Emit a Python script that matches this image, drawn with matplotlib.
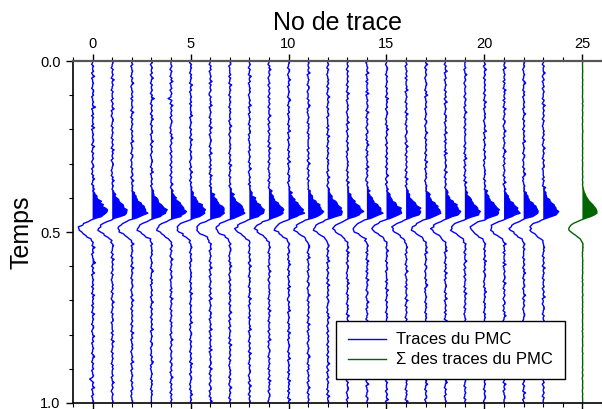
import numpy as np
import matplotlib
matplotlib.use("Agg")
import matplotlib.pyplot as plt
from matplotlib.lines import Line2D
from matplotlib.ticker import MultipleLocator, FormatStrFormatter

plt.rcParams["font.family"] = ["Liberation Sans", "DejaVu Sans"]

# ───── données ─────
DT = 0.005          # pas d'échantillonnage (s)
N_SAMPLES = 201     # 0.0 -> 1.0 s
NOISE_STEP = 0.05   # amplitude d'un cran de bruit (unités de trace)

# ondelette commune (début à WAVELET_T0, même pas DT)
WAVELET_T0 = 0.36
wavelet = [0.00, 0.01, 0.02, 0.04, 0.06, 0.09, 0.13, 0.17, 0.22, 0.28,
           0.35, 0.42, 0.50, 0.58, 0.65, 0.71, 0.74, 0.72, 0.60, 0.40,
           0.15, -0.08, -0.28, -0.46, -0.60, -0.68, -0.70, -0.68, -0.60, -0.48,
           -0.35, -0.23, -0.13, -0.06, -0.02, 0.01, 0.02, 0.02, 0.01, 0.00]

# bruit de chaque trace, codé en crans ('4' = 0)
noise_codes = [
    "44354 45346 34454 43554 53445 44734 45354 44536 34454 45543 64435 44543 45534 43546 44354 53445 44635 24543 35445 46344 54435 45436 44534 45574 35446 34454 45354 43645 44535 44364 45443 55434 46445 34454 43564 43544 53445 41354 46344 53445 4",
    "45443 54454 36445 44354 44534 54463 44345 54435 44544 35445 43645 44534 55443 44354 64454 34453 45445 43544 54354 44643 45344 53454 44354 36445 44543 54434 45454 35443 46445 44354 45534 44453 54436 44544 35445 44354 54445 34464 45434 54445 4",
    "44534 45443 54464 34454 45354 44543 64435 44544 35445 44634 45443 55434 44354 45534 64454 43545 44354 54436 44534 45445 35444 54634 45443 54454 36445 44354 45543 44534 64454 35445 44543 54436 44534 45454 34454 46344 53445 44354 45534 43445 4",
    "45345 44534 64435 44543 54744 35445 43546 44354 45534 44643 54454 34455 44354 63445 44534 45443 55434 44644 35445 44543 54436 44534 45454 34454 43564 44354 53445 44534 46443 54454 35445 44634 45443 55434 44354 46534 34454 43545 44354 54444 4",
    "44454 35443 54634 45345 44154 36445 44534 55443 44354 64454 34453 45445 43544 54354 44643 45344 53454 44354 36445 44543 54434 45454 35443 46445 44354 45534 44453 54436 44544 35445 44354 54445 34464 45434 54445 43554 45344 64435 44543 54454 4",
    "43545 44354 54436 44534 45445 35444 54634 45443 54454 36445 44354 45543 44534 64454 35445 44543 54436 44534 45454 34454 46344 53445 44354 45534 43445 45443 54454 36445 44354 44534 54463 44345 54435 44544 35445 43645 44534 55443 44354 64454 4",
    "44354 53445 44635 44543 35445 46344 54435 45436 44534 45544 35446 34454 45354 43645 44535 44364 45443 55434 46445 34454 43564 43544 53445 44354 46344 53445 44354 45346 34454 43554 53445 44634 45354 44536 34454 45543 64435 44543 45534 43546 4",
    "45534 44453 54436 44544 35445 44354 54445 34464 45434 54445 45443 54454 36445 44354 44534 54463 44345 54435 44544 35445 43645 44534 55443 44354 64454 34453 45445 43544 54354 44643 45344 53454 44354 36445 44543 54434 45454 35443 46445 44354 4",
    "44543 54436 44534 45454 34454 46344 53445 44354 45534 43445 44534 45443 54464 34454 45354 44543 64435 44544 35445 44634 45443 55434 44354 45534 64454 43545 44354 54436 44534 45445 35444 54634 45443 54454 36445 44354 45543 44534 64454 35445 4",
    "44354 64454 34453 45445 43544 54354 44643 45344 53454 44354 36445 44543 54434 45454 35443 46445 44354 45534 44453 54436 44544 35445 44354 54445 34464 45434 54445 45443 54454 36445 44354 44534 54463 44345 54435 44544 35445 43645 44534 55443 4",
    "45443 55434 46445 34454 43564 43544 53445 44354 46344 53445 44354 45346 34454 43554 53445 44634 45354 44536 34454 45543 64435 44543 45534 43546 44354 53445 44635 44543 35445 46344 54435 45436 44534 45544 35446 34454 45354 43645 44535 44364 4",
    "35445 44634 45443 55434 44354 46534 34454 43545 44354 54444 45345 44534 64435 44543 54444 35445 43546 44354 45534 44643 54454 34455 44354 63445 44534 45443 55434 44644 35445 44543 54436 44534 45454 34454 43564 44354 53445 44534 46443 54454 4",
    "44543 54434 45454 35443 46445 44354 45534 44453 54436 44544 35445 44354 54445 34464 45434 54445 43554 45344 64435 44543 54454 44454 35443 54634 45345 44354 36445 44534 55443 44354 64454 34453 45445 43544 54354 44643 45344 53454 44354 36445 4",
    "64454 35445 44543 54436 44534 45454 34454 46344 53445 44354 45534 43445 45443 54454 36445 44354 44534 54463 44345 54435 44544 35445 43645 44534 55443 44354 64454 43545 44354 54436 44534 45445 35444 54634 45443 54454 36445 44354 45543 44534 4",
    "53445 44634 45354 44536 34454 45543 64435 44543 45534 43546 44354 53445 44635 44543 35445 46344 54435 45436 44534 45544 35446 34454 45354 43645 44535 44364 45443 55434 46445 34454 43564 43544 53445 44354 46344 53445 44354 45346 34454 43554 4",
    "44345 54435 44544 35445 43645 44534 55443 44354 64454 34453 45445 43544 54354 44643 45344 53454 44354 36445 44543 54434 45454 35443 46445 44354 45534 44453 54436 44544 35445 44354 54445 34464 45434 54445 45443 54454 36445 44354 44534 54463 4",
    "44534 45445 35444 54634 45443 54454 36445 44354 45543 44534 64454 35445 44543 54436 44534 45454 34454 46344 53445 44354 45534 43445 44534 45443 54464 34454 45354 44543 64435 44544 35445 44634 45443 55434 44354 45534 64454 43545 44354 54436 4",
    "44643 54454 34455 44354 63445 44534 45443 55434 44644 35445 44543 54436 44534 45454 34454 43564 44354 53445 44534 46443 54454 35445 44634 45443 55434 44354 46534 34454 43545 44354 54444 45345 44534 64435 44543 54444 35445 43546 44354 45534 4",
    "44354 46344 53445 44354 45346 34454 43554 53445 44634 45354 44536 34454 45543 64435 44543 45534 43546 44354 53445 44635 44543 35445 46344 54435 45436 44534 45544 35446 34454 45354 43645 44535 44364 45443 55434 46445 34454 43564 43544 53445 4",
    "54445 34464 45434 54445 43554 45344 64435 44543 54454 44454 35443 54634 45345 44354 36445 44534 55443 44354 64454 34453 45445 43544 54354 44643 45344 53454 44354 36445 44543 54434 45454 35443 46445 44354 45534 44453 54436 44544 35445 44354 4",
    "44534 64454 35445 44543 54436 44534 45454 34454 46344 53445 44354 45534 43445 45443 54454 36445 44354 44534 54463 44345 54435 44544 35445 43645 44534 55443 44354 64454 43545 44354 54436 44534 45445 35444 54634 45443 54454 36445 44354 45543 4",
    "35446 34454 45354 43645 44535 44364 45443 55434 46445 34454 43564 43544 53445 44354 46344 53445 44354 45346 34454 43554 53445 44634 45354 44536 34454 45543 64435 44543 45534 43546 44354 53445 44635 44543 35445 46344 54435 45436 44534 45544 4",
    "45454 34454 43564 44354 53445 44534 46443 54454 35445 44634 45443 55434 44354 46534 34454 43545 44354 54444 45345 44534 64435 44543 54444 35445 43546 44354 45534 44643 54454 34455 44354 63445 44534 45443 55434 44644 35445 44543 54436 44534 4",
    "54354 44643 45344 53454 44354 36445 44543 54434 45454 35443 46445 44354 45534 44453 54436 44544 35445 44354 54445 34464 45434 54445 45443 54454 36445 44354 44534 54463 44345 54435 44544 35445 43645 44534 55443 44354 64454 34453 45445 43544 4",
]

trace_ids = list(range(len(noise_codes)))   # traces 0..23
SUM_POS = 25                                 # position de la trace somme

t = np.arange(N_SAMPLES) * DT
i0 = int(round(WAVELET_T0 / DT))

traces = []
for code in noise_codes:
    digits = [int(c) - 4 for c in code if not c.isspace()]
    tr = np.zeros(N_SAMPLES)
    n = min(len(digits), N_SAMPLES)
    tr[:n] = np.array(digits[:n]) * NOISE_STEP
    tr[i0:i0 + len(wavelet)] += np.array(wavelet)
    traces.append(tr)
traces = np.array(traces)
stack = traces.mean(axis=0)

# ───── figure ─────
fig = plt.figure(figsize=(6.02, 4.09), dpi=100)
ax = fig.add_axes([73 / 602, 6 / 409, 529 / 602, 342 / 409])

for k, tr in zip(trace_ids, traces):
    ax.plot(k + tr, t, color="#0000ff", lw=1.0)
    ax.fill_betweenx(t, k, k + tr, where=tr > 0, interpolate=True,
                     color="#0000ff", lw=0)

ax.plot(SUM_POS + stack, t, color="#006400", lw=1.0)
ax.fill_betweenx(t, SUM_POS, SUM_POS + stack, where=stack > 0, interpolate=True,
                 color="#006400", lw=0)

ax.set_xlim(-1, 26)
ax.set_ylim(1.0, 0.0)

ax.xaxis.set_major_locator(MultipleLocator(5))
ax.xaxis.set_minor_locator(MultipleLocator(1))
ax.yaxis.set_major_locator(MultipleLocator(0.5))
ax.yaxis.set_minor_locator(MultipleLocator(0.1))
ax.yaxis.set_major_formatter(FormatStrFormatter("%.1f"))

ax.tick_params(axis="x", which="both", top=True, bottom=True,
               labeltop=True, labelbottom=False, direction="out")
ax.tick_params(axis="y", which="both", left=True, right=False, direction="out")
ax.tick_params(which="major", length=5, width=1, labelsize=10.5)
ax.tick_params(axis="x", which="major", pad=2.5)
ax.tick_params(axis="y", which="major", pad=4)
ax.tick_params(which="minor", length=3, width=0.8)

ax.spines["right"].set_visible(False)
ax.spines["top"].set_color("#555555")
ax.spines["top"].set_linewidth(1.6)
ax.spines["left"].set_linewidth(1.2)
ax.spines["bottom"].set_linewidth(1.2)

ax.xaxis.set_label_position("top")
ax.set_xlabel("No de trace", fontsize=18, labelpad=5)
ax.set_ylabel("Temps", fontsize=18, labelpad=5)

handles = [Line2D([], [], color="#0000ff", lw=1),
           Line2D([], [], color="#006400", lw=1)]
leg = ax.legend(handles, ["Traces du PMC", "\u03a3 des traces du PMC"],
                loc="lower right", bbox_to_anchor=(0.930, 0.070),
                borderaxespad=0, fontsize=12, fancybox=False,
                framealpha=1, edgecolor="black", handlelength=2.3,
                handletextpad=0.6, labelspacing=0.3, borderpad=0.7)
leg.get_frame().set_linewidth(1.0)

fig.savefig("out.png", dpi=100)
